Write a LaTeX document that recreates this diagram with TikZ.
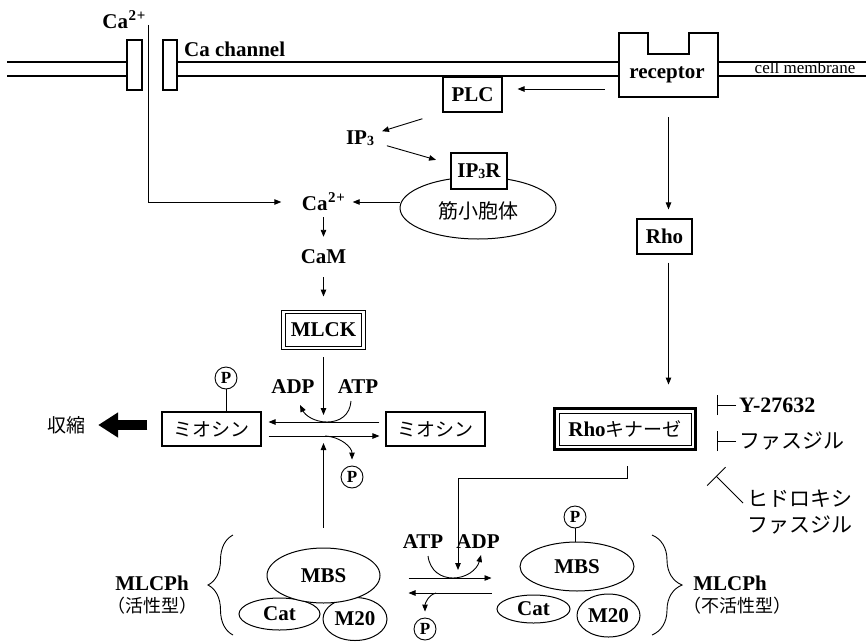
\documentclass[tikz,border=0pt]{standalone}
\usepackage{fontspec}
\setmainfont{Liberation Serif}
\newfontfamily\jp{Noto Sans CJK JP}
\usetikzlibrary{arrows.meta,shapes.geometric,decorations.pathreplacing}
\newcommand\CaTwo{Ca\kern0.5pt\raisebox{0.38em}{\fontsize{15}{15}\selectfont 2\kern0.8pt+}}
\newcommand\IPthree{IP\raisebox{-0.05em}{\fontsize{14}{14}\selectfont 3}}
\begin{document}
\begin{tikzpicture}[x=1pt,y=-1pt,
  lat/.style={font=\bfseries\fontsize{21}{25}\selectfont, inner sep=0pt},
  jpt/.style={font=\jp\fontsize{19}{23}\selectfont, inner sep=0pt},
  jpl/.style={font=\jp\fontsize{21}{25}\selectfont, inner sep=0pt},
  jps/.style={font=\jp\fontsize{18}{22}\selectfont, inner sep=0pt},
  box/.style={draw, line width=1.1pt, inner sep=0pt},
  arr/.style={line width=0.9pt, -{Triangle[length=7pt,width=5.5pt]}},
  ln/.style={line width=0.9pt},
  mem/.style={line width=1.2pt},
  pcirc/.style={circle, draw, line width=0.9pt, inner sep=0pt, minimum size=22pt, font=\bfseries\fontsize{17}{17}\selectfont},
  oval/.style={ellipse, draw, line width=1pt, inner sep=0pt, fill=white},
  inh/.style={line width=0.9pt, -{Bar[width=20pt]}}
]
\useasboundingbox (0,0) rectangle (866,642);
\fill[white] (0,0) rectangle (866,642);

% membrane
\draw[mem] (7,62) -- (127,62) (7,76) -- (127,76);
\draw[mem] (177,62) -- (619,62) (177,76) -- (619,76);
\draw[mem] (718,62) -- (866,62) (718,76) -- (866,76);
\draw[box, fill=white] (127,40) rectangle (142,90);
\draw[box, fill=white] (163,40) rectangle (177,90);
\draw[line width=1.1pt] (619,33) -- (648,33) -- (648,54) -- (689,54) -- (689,33) -- (718,33) -- (718,97) -- (619,97) -- cycle;
\node (rec) [minimum width=99pt, minimum height=64pt, inner sep=0pt] at (668.5,65) {};
\node[lat] (rectext) at (667,75) {receptor};
\node[font=\fontsize{17}{20}\selectfont, inner sep=0pt, anchor=base] (cm) at (805,74) {cell membrane};
\node[lat] (catoptext) at (124,20) {\CaTwo};
\node[lat, anchor=west] (cach) at (184,49) {Ca channel};

% upper part
\node[box, lat, minimum width=59pt, minimum height=35pt] (plc) at (472.5,94.5) {PLC};
\node[lat] (ip3) at (360,138) {\IPthree};
\node[oval, minimum width=156pt, minimum height=62pt] (sr) at (478,208) {};
\node[jpt, font=\jp\fontsize{20}{24}\selectfont] (srtext) at (478,211) {筋小胞体};
\node[box, lat, fill=white, minimum width=56pt, minimum height=36pt] (ip3r) at (479,171) {\IPthree R};
\node[lat, minimum width=58pt, minimum height=24pt] (camid) at (323.5,202) {\CaTwo};
\node[lat, minimum height=24pt] (cam) at (323.5,257) {CaM};
\node[lat, draw, line width=0.9pt, double, double distance=2.5pt, minimum width=80pt, minimum height=36pt] (mlck) at (323.5,330) {MLCK};
\node[box, lat, minimum width=55pt, minimum height=35pt] (rho) at (664.5,236.5) {Rho};

% myosin
\node[box, jpt, minimum width=99pt, minimum height=34pt] (myL) at (211.5,429) {ミオシン};
\node[box, jpt, minimum width=99pt, minimum height=34pt] (myR) at (435.5,429) {ミオシン};
\node[pcirc] (pL) at (226,378) {P};
\draw[ln] (pL.south) -- (pL.south |- myL.north);
\node[lat] (adp1) at (293,387) {ADP};
\node[lat] (atp1) at (358,387) {ATP};
\node[pcirc] (p2) at (352,477) {P};
\node[jpt] (shr) at (66,425) {収縮};

% Rho kinase
\node[box, lat, line width=0.9pt, minimum width=132pt, minimum height=32pt] (rk) at (625,429) {Rho{\mdseries\jp\fontsize{19}{23}\selectfont キナーゼ}};
\draw[line width=3pt] ([xshift=-4.5pt,yshift=4.5pt]rk.north west) rectangle ([xshift=4.5pt,yshift=-4.5pt]rk.south east);

% inhibitors
\node[lat, font=\bfseries\fontsize{22}{26}\selectfont, anchor=west] (yk) at (739,405) {Y-27632};
\node[jpl, anchor=west] (fas) at (739,441) {ファスジル};
\node[jpl, anchor=west] (hf1) at (747,499) {ヒドロキシ};
\node[jpl, anchor=west] (hf2) at (747,525) {ファスジル};
\coordinate (yb) at (717,405);
\coordinate (fb) at (717,441);
\coordinate (hb) at (716,476);
\draw[inh, shorten <=3pt] (yk.west) -- (yb);
\draw[inh, shorten <=3pt] (fas.west) -- (fb);
\draw[line width=0.9pt, -{Bar[width=26pt]}] ([xshift=-4pt,yshift=-4pt]hf1.west) -- (hb);

% bottom complexes
\node[oval, lat, minimum width=81pt, minimum height=32pt] (catL) at (279.5,614) {Cat};
\node[oval, lat, minimum width=64pt, minimum height=43pt] (m20L) at (355,619) {M20};
\node[oval, lat, minimum width=113pt, minimum height=55pt] (mbsL) at (323.5,575.5) {MBS};
\node[oval, lat, minimum width=73pt, minimum height=28pt] (catR) at (533.5,609) {Cat};
\node[oval, lat, minimum width=63pt, minimum height=43pt] (m20R) at (608.5,615.5) {M20};
\node[oval, lat, minimum width=114pt, minimum height=49pt] (mbsR) at (577,566.5) {MBS};
\node[pcirc] (pR) at (575,517) {P};
\draw[ln] (pR.south) -- (pR.south |- mbsR.north);
\node[lat] (atp2) at (423,542) {ATP};
\node[lat] (adp2) at (478,542) {ADP};
\node[pcirc] (p3) at (425,629) {P};
\node[lat] (mlcL) at (152,583) {MLCPh};
\node[jps] (actL) at (152,606) {（活性型）};
\node[lat] (mlcR) at (730,583) {MLCPh};
\node[jps] (actR) at (737,606) {（不活性型）};
\draw[ln, decorate, decoration={brace, amplitude=25pt, aspect=0.5}] (233,635) -- (233,535);
\draw[ln, decorate, decoration={brace, amplitude=30pt, aspect=0.5}] (652,535) -- (652,635);

% connectors: top
\coordinate (catop) at (148,25);
\draw[arr, shorten >=13pt] (catop) |- (camid.west);
\draw[arr] (camid.east -| sr.west) -- (camid.east);
\draw[arr, shorten <=3pt, shorten >=8pt] (camid.south) -- (cam.north);
\draw[arr, shorten <=8pt, shorten >=15pt] (cam.south) -- (mlck.north);
\coordinate (r1) at ([yshift=-24pt]rec.west);
\draw[arr, shorten <=14pt, shorten >=15pt] (r1) -- (r1 -| plc.east);
\draw[arr, shorten <=21pt, shorten >=23pt] (plc.south west) -- (ip3.center);
\draw[arr, shorten <=28pt, shorten >=15pt] (ip3.center) -- ([yshift=7pt]ip3r.west);
\draw[arr, shorten <=20pt, shorten >=9pt] (rec.south) -- (rec.south |- rho.north);
\draw[arr, shorten <=8pt, shorten >=28pt] (rec.south |- rho.south) -- (rec.south |- rk.north);

% myosin reactions
\coordinate (k1) at (323.5,415);
\draw[arr, shorten <=9pt] (mlck.south) -- (k1);
\draw[arr, shorten <=6pt, shorten >=7pt] ([yshift=7pt]myR.west) -- ([yshift=7pt]myL.east);
\draw[arr, shorten <=7pt, shorten >=6pt] ([yshift=-7pt]myL.east) -- ([yshift=-7pt]myR.west);
\coordinate (c1) at (351,401);
\coordinate (c1m) at (327,422);
\coordinate (c1e) at (300,405);
\draw[arr] (c1) .. controls (350,415) and (340,422) .. (c1m) .. controls (314,422) and (305,415) .. (c1e);
\coordinate (c2) at (325,436);
\draw[arr, shorten >=6pt] (c2) .. controls (342,437) and (352,448) .. (p2.north);
\coordinate (k2) at (323.5,443);
\draw[arr, shorten <=20pt] (mbsL.north) -- (k2);
\draw[line width=10pt, -{Triangle[length=20pt,width=24pt]}, shorten <=14pt, shorten >=13pt] ([yshift=4pt]myL.west) -- (shr.east);

% MLCPh reactions
\coordinate (rkbend) at (458,478);
\coordinate (rkin) at (458,570);
\draw[arr, shorten <=21pt] ([xshift=2pt]rk.south) |- (rkbend) -- (rkin);
\draw[arr, shorten <=28pt, shorten >=28pt] ([yshift=-2.5pt]mbsL.east) -- ([yshift=-11.5pt]mbsR.west);
\draw[arr, shorten <=28pt, shorten >=28pt] ([yshift=-26.5pt]mbsR.west) -- ([yshift=-17.5pt]mbsL.east);
\coordinate (d1) at (428,556);
\coordinate (d1m) at (453,578);
\coordinate (d1e) at (481,555);
\draw[arr] (d1) .. controls (430,571) and (441,578) .. (d1m) .. controls (466,578) and (477,570) .. (d1e);
\coordinate (d2) at (436,593);
\draw[arr, shorten >=6pt] (d2) .. controls (428,595) and (425,604) .. (p3.north);
\end{tikzpicture}
\end{document}
